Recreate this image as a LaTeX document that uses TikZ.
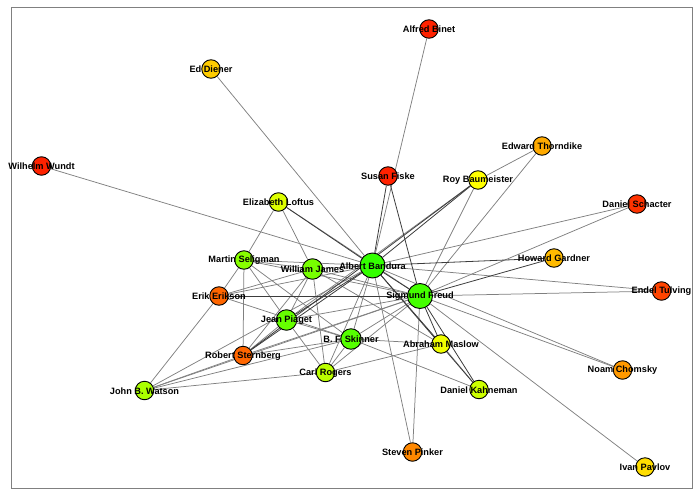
\documentclass[tikz,border=0pt]{standalone}
\usepackage{fontspec}
\setmainfont{Liberation Sans}
\usetikzlibrary{backgrounds}
\definecolor{edgegray}{HTML}{808080}
\definecolor{edgedark}{HTML}{3C3C3C}
\definecolor{framegray}{HTML}{808080}
\tikzset{
  vertex/.style={circle, draw=black, line width=0.9pt, inner sep=0pt, minimum size=18.5pt},
  midvertex/.style={vertex, minimum size=20.5pt},
  bigvertex/.style={vertex, minimum size=25pt},
  lab/.style={font=\bfseries\fontsize{9.2}{10}\selectfont, text=black, inner sep=0pt, yshift=-0.6pt},
  edge/.style={draw=edgegray, line width=0.75pt},
  darkedge/.style={draw=edgedark, line width=0.8pt},
  frame/.style={draw=framegray, line width=1pt}
}
\begin{document}
\begin{tikzpicture}[x=1pt,y=-1pt]
\useasboundingbox (0,0) rectangle (700,500);
\draw[frame] (11,7.5) rectangle (692,488);
% nodes
\node[vertex, fill={rgb,255:red,255;green,34;blue,0}] (Binet) at (429,29) {};
\node[vertex, fill={rgb,255:red,255;green,204;blue,0}] (Diener) at (211,69) {};
\node[vertex, fill={rgb,255:red,255;green,34;blue,0}] (Wundt) at (41.5,166) {};
\node[vertex, fill={rgb,255:red,255;green,34;blue,0}] (Fiske) at (388,176) {};
\node[vertex, fill={rgb,255:red,255;green,255;blue,0}] (Baum) at (478,180) {};
\node[vertex, fill={rgb,255:red,255;green,170;blue,0}] (Thorn) at (542,146) {};
\node[vertex, fill={rgb,255:red,255;green,51;blue,0}] (Schac) at (637,204) {};
\node[vertex, fill={rgb,255:red,221;green,255;blue,0}] (Loftus) at (278.5,202) {};
\node[vertex, fill={rgb,255:red,136;green,255;blue,0}] (Selig) at (244,260) {};
\node[midvertex, fill={rgb,255:red,119;green,255;blue,0}] (James) at (312.5,269) {};
\node[bigvertex, fill={rgb,255:red,51;green,255;blue,0}] (Band) at (372.5,265.5) {};
\node[bigvertex, fill={rgb,255:red,68;green,255;blue,0}] (Freud) at (420,296) {};
\node[vertex, fill={rgb,255:red,255;green,187;blue,0}] (Gard) at (554,258) {};
\node[vertex, fill={rgb,255:red,255;green,68;blue,0}] (Tulv) at (661.5,291) {};
\node[vertex, fill={rgb,255:red,255;green,102;blue,0}] (Erik) at (219,296) {};
\node[midvertex, fill={rgb,255:red,102;green,255;blue,0}] (Piag) at (286.5,320) {};
\node[midvertex, fill={rgb,255:red,85;green,255;blue,0}] (Skin) at (351,339) {};
\node[vertex, fill={rgb,255:red,240;green,255;blue,0}] (Maslow) at (441,344) {};
\node[vertex, fill={rgb,255:red,255;green,102;blue,0}] (Stern) at (243,355.5) {};
\node[vertex, fill={rgb,255:red,187;green,255;blue,0}] (Rogers) at (325.5,372.5) {};
\node[vertex, fill={rgb,255:red,170;green,255;blue,0}] (Watson) at (144.5,390.5) {};
\node[vertex, fill={rgb,255:red,204;green,255;blue,0}] (Kahn) at (479,389.5) {};
\node[vertex, fill={rgb,255:red,255;green,153;blue,0}] (Chom) at (622.5,370) {};
\node[vertex, fill={rgb,255:red,255;green,136;blue,0}] (Pinker) at (412.5,452) {};
\node[vertex, fill={rgb,255:red,255;green,221;blue,0}] (Pavlov) at (645,467) {};
% edges
\begin{pgfonlayer}{background}
\foreach \a/\b in {Binet/Band, Diener/Band, Wundt/Band, Thorn/Baum, Thorn/Freud,
  Schac/Band, Schac/Freud, Baum/Freud, Tulv/Band, Tulv/Freud, Chom/Band, Chom/Freud,
  Pavlov/Freud, Pinker/Band, Pinker/Freud, Loftus/Selig, Loftus/James, Loftus/Freud,
  Selig/James, Selig/Band, Selig/Freud, Selig/Erik, Selig/Stern, Selig/Piag, Selig/Skin,
  James/Erik, James/Piag, James/Rogers, James/Stern, James/Maslow, James/Band, James/Freud,
  Erik/Watson, Erik/Skin, Erik/Band, Piag/Skin, Piag/Rogers, Piag/Stern, Piag/Freud,
  Skin/Rogers, Skin/Maslow, Skin/Kahn, Skin/Stern, Skin/Band, Skin/Freud,
  Rogers/Maslow, Rogers/Watson, Rogers/Freud, Rogers/Band, Watson/Band, Watson/Stern,
  Watson/Freud, Watson/Skin, Maslow/Kahn, Stern/Freud, Baum/Piag}
  \draw[edge] (\a) -- (\b);
\foreach \a/\b in {Fiske/Band, Fiske/Freud, Baum/Band, Baum/Stern, Loftus/Band,
  Gard/Band, Gard/Freud, Erik/Freud, Band/Freud, Band/Maslow, Band/Kahn, Freud/Kahn,
  Band/Piag, Band/Stern, Freud/Maslow}
  \draw[darkedge] (\a) -- (\b);
\end{pgfonlayer}
% labels
\node[lab] (tBinet) at (Binet) {Alfred Binet};
\node[lab] (tDiener) at (Diener) {Ed Diener};
\node[lab] (tWundt) at (Wundt) {Wilhelm Wundt};
\node[lab] (tFiske) at (Fiske) {Susan Fiske};
\node[lab] (tBaum) at (Baum) {Roy Baumeister};
\node[lab] (tThorn) at (Thorn) {Edward Thorndike};
\node[lab] (tSchac) at (Schac) {Daniel Schacter};
\node[lab] (tLoftus) at (Loftus) {Elizabeth Loftus};
\node[lab] (tSelig) at (Selig) {Martin Seligman};
\node[lab] (tJames) at (James) {William James};
\node[lab] (tBand) at (Band) {Albert Bandura};
\node[lab] (tFreud) at (Freud) {Sigmund Freud};
\node[lab] (tGard) at (Gard) {Howard Gardner};
\node[lab] (tTulv) at (Tulv) {Endel Tulving};
\node[lab] (tErik) at (Erik) {Erik Erikson};
\node[lab] (tPiag) at (Piag) {Jean Piaget};
\node[lab] (tSkin) at (Skin) {B. F. Skinner};
\node[lab] (tMaslow) at (Maslow) {Abraham Maslow};
\node[lab] (tStern) at (Stern) {Robert Sternberg};
\node[lab] (tRogers) at (Rogers) {Carl Rogers};
\node[lab] (tWatson) at (Watson) {John B. Watson};
\node[lab] (tKahn) at (Kahn) {Daniel Kahneman};
\node[lab] (tChom) at (Chom) {Noam Chomsky};
\node[lab] (tPinker) at (Pinker) {Steven Pinker};
\node[lab] (tPavlov) at (Pavlov) {Ivan Pavlov};
\end{tikzpicture}
\end{document}
